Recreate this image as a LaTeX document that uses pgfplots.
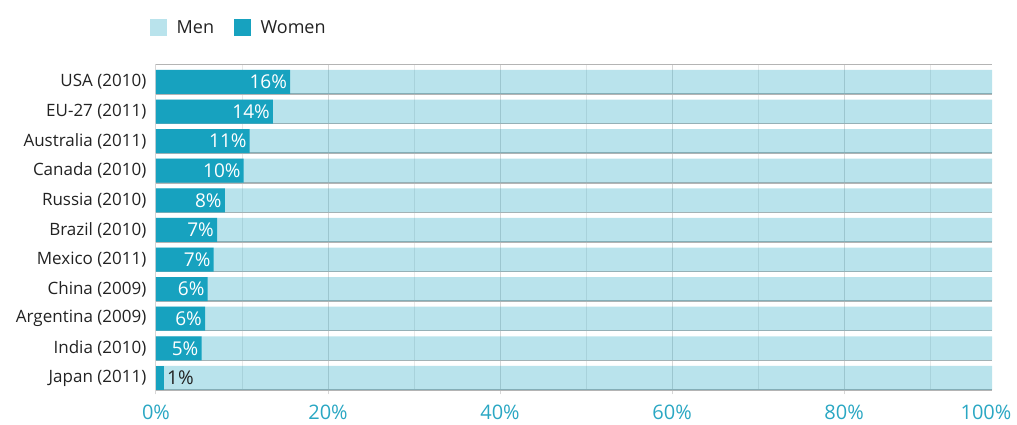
\documentclass[border=0pt]{standalone}
\usepackage{fontspec}
\setmainfont{Open Sans}
\usepackage{pgfplots}
\pgfplotsset{compat=1.18}
\definecolor{women}{HTML}{17A2BF}
\definecolor{tickc}{HTML}{2AA7C3}
\definecolor{sep}{HTML}{B4B4B4}
\definecolor{txt}{HTML}{222222}
\begin{document}
\begin{tikzpicture}
\begin{axis}[
  at={(156pt,35.1pt)}, anchor=south west,
  scale only axis, width=836pt, height=325.5pt,
  xmin=0, xmax=97.2,
  ymin=-0.594, ymax=10.406, y dir=reverse,
  xbar, bar width=24pt, bar shift=0pt,
  axis line style={draw=none},
  xtick={0,20,40,60,80},
  xticklabels={0\%,20\%,40\%,60\%,80\%},
  extra x ticks={96.5}, extra x tick labels={100\%},
  extra x tick style={grid=none, tick style={draw=none}},
  minor xtick={10,30,50,70,90},
  xmajorgrids, xminorgrids,
  major grid style={line width=1pt, color=black!16},
  minor grid style={line width=1pt, color=black!9},
  tick align=outside, xtick pos=left, ytick pos=left,
  major tick length=4.5pt, minor tick length=0pt,
  xtick style={color=black!16, line width=1pt},
  xticklabel style={font=\fontsize{20}{20}\selectfont, text=tickc, anchor=base, inner sep=0pt, yshift=-25pt},
  ytick={0,...,10},
  yticklabels={USA (2010),EU-27 (2011),Australia (2011),Canada (2010),Russia (2010),Brazil (2010),Mexico (2011),China (2009),Argentina (2009),India (2010),Japan (2011)},
  ytick style={draw=none},
  yticklabel style={font=\fontsize{17}{17}\selectfont, text=txt, anchor=east, inner sep=0pt, xshift=-5pt},
  extra y ticks={-0.594,0.406,1.406,2.406,3.406,4.406,5.406,6.406,7.406,8.406,9.406,10.406},
  extra y tick labels={},
  extra y tick style={grid=major, major grid style={draw=sep, line width=1.5pt}, tick style={draw=sep, line width=1.5pt}, major tick length=145pt},
  legend style={at={(-0.0072,1.1128)}, anchor=west, draw=none, fill=none, inner sep=0pt,
    font=\fontsize{18}{18}\selectfont, text=txt, nodes={inner sep=0pt},
    /tikz/every odd column/.append style={column sep=10pt},
    /tikz/every even column/.append style={column sep=20pt}},
  legend columns=-1,
  legend image code/.code={\fill[#1] (0pt,-8.3pt) rectangle (16.5pt,8.3pt);},
  nodes near coords={\pgfplotspointmeta\%},
]
\addplot[draw=none, fill=women, fill opacity=0.3] coordinates {
(100,0) (100,1) (100,2) (100,3) (100,4) (100,5) (100,6) (100,7) (100,8) (100,9) (100,10)};
\addlegendentry{Men}
\addplot[draw=none, fill=women, point meta=explicit symbolic,
  nodes near coords style={anchor=east, text=white, inner sep=0pt, xshift=-3pt, font=\fontsize{19}{19}\selectfont}] coordinates {
(15.6,0) [16] (13.6,1) [14] (10.9,2) [11] (10.2,3) [10] (8.0,4) [8] (7.1,5) [7] (6.7,6) [7] (6.0,7) [6] (5.7,8) [6] (5.3,9) [5]};
\addlegendentry{Women}
\addplot[draw=none, fill=women, point meta=explicit symbolic, forget plot,
  nodes near coords style={anchor=west, text=txt, inner sep=0pt, xshift=3pt, font=\fontsize{19}{19}\selectfont}] coordinates {
(0.93,10) [1]};
\end{axis}
\pgfresetboundingbox
\path (0,0) rectangle (1017pt,425pt);
\end{tikzpicture}
\end{document}
